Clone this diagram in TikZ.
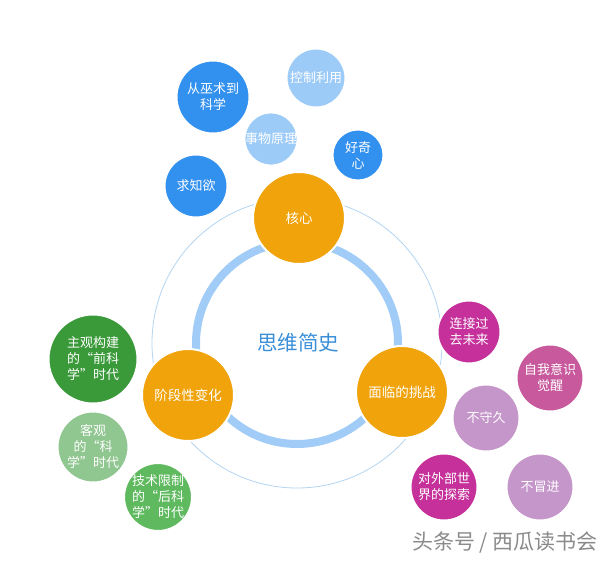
\documentclass[tikz,border=0pt]{standalone}
\usepackage{fontspec}
\setmainfont{Noto Sans CJK SC}

\definecolor{ringblue}{HTML}{A0CCF7}
\definecolor{thinblue}{HTML}{B3D5F2}
\definecolor{titleblue}{HTML}{3A8FD9}
\definecolor{coreorange}{HTML}{F0A30A}
\definecolor{deepblue}{HTML}{3290EE}
\definecolor{paleblue}{HTML}{9DCBF8}
\definecolor{darkgreen}{HTML}{3A9A3A}
\definecolor{midgreen}{HTML}{5FB95F}
\definecolor{palegreen}{HTML}{90C690}
\definecolor{magenta}{HTML}{C5309A}
\definecolor{rosepink}{HTML}{C8599C}
\definecolor{lilac}{HTML}{C596CA}
\definecolor{markgray}{HTML}{8A8A8A}

\tikzset{
  bubble/.style={circle, draw=white, line width=2pt, text=white,
    align=center, inner sep=0pt, font=\fontsize{13}{16}\selectfont},
  core/.style={bubble, fill=coreorange, minimum size=92pt,
    font=\fontsize{13.5}{17}\selectfont},
}

\begin{document}
\begin{tikzpicture}[x=1pt,y=-1pt]
\useasboundingbox [fill=white] (0,0) rectangle (615,564);

\draw [thinblue, line width=0.8pt] (297,343) circle (145);
\draw [ringblue, line width=8pt] (297,343) circle (101);
\node (title) [text=titleblue, font=\fontsize{20.5}{24}\selectfont] at (298,343) {思维简史};

\node (core) [core] at (299,218) {核心};
\node (stage) [core] at (188,395) {阶段性变化};
\node (challenge) [core] at (402,392) {面临的挑战};

\node (magic) [bubble, fill=deepblue, minimum size=73pt] at (213,97) {从巫术到\\科学};
\node (control) [bubble, fill=paleblue, minimum size=59pt] at (316,78) {控制利用};
\node (principle) [bubble, fill=paleblue, minimum size=53pt] at (271,139) {事物原理};
\node (curious) [bubble, fill=deepblue, minimum size=51pt] at (358,155) {好奇\\心};
\node (desire) [bubble, fill=deepblue, minimum size=63pt] at (196,186) {求知欲};

\node (prescience) [bubble, fill=darkgreen, minimum size=89pt] at (93,359) {主观构建\\的“前科\\学”时代};
\node (science) [bubble, fill=palegreen, minimum size=71pt] at (93,447) {客观\\的“科\\学”时代};
\node (postscience) [bubble, fill=midgreen, minimum size=67pt] at (158,497) {技术限制\\的“后科\\学”时代};

\node (link) [bubble, fill=magenta, minimum size=63pt] at (469,332) {连接过\\去未来};
\node (self) [bubble, fill=rosepink, minimum size=67pt] at (550,378) {自我意识\\觉醒};
\node (keep) [bubble, fill=lilac, minimum size=67pt] at (486,418) {不守久};
\node (explore) [bubble, fill=magenta, minimum size=67pt] at (444,487) {对外部世\\界的探索};
\node (bold) [bubble, fill=lilac, minimum size=67pt] at (540,487) {不冒进};

\node (mark) [text=markgray, font=\fontsize{21}{24}\selectfont] at (505,543) {头条号 / 西瓜读书会};
\end{tikzpicture}
\end{document}
